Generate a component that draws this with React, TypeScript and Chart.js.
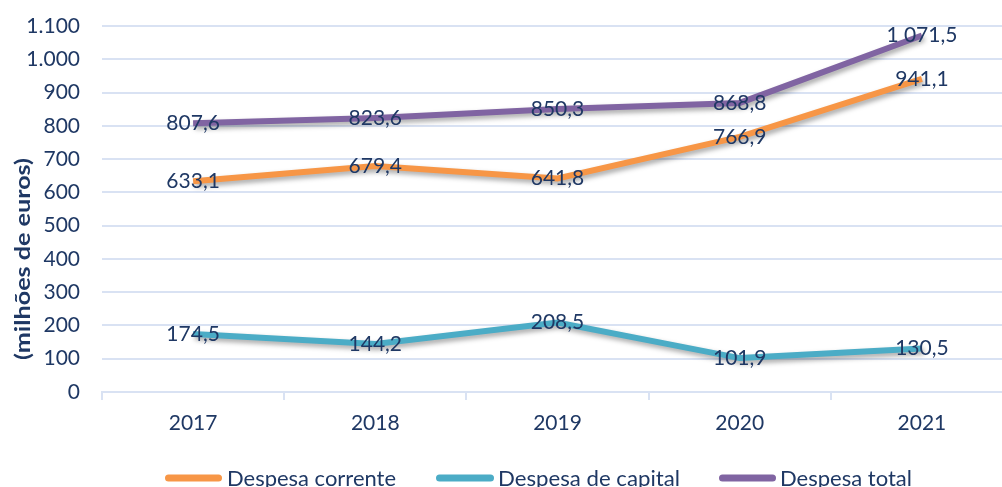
import React, { useEffect, useRef } from "react";
import { Chart, registerables } from "chart.js";

Chart.register(...registerables);

const categories = ["2017", "2018", "2019", "2020", "2021"];
const despesaCorrente = [633.1, 679.4, 641.8, 766.9, 941.1];
const despesaCapital = [174.5, 144.2, 208.5, 101.9, 130.5];
const despesaTotal = [807.6, 823.6, 850.3, 868.8, 1071.5];
const seriesNames = ["Despesa corrente", "Despesa de capital", "Despesa total"];
const seriesColors = ["#F79646", "#4BACC6", "#8064A2"];
const yAxisTitle = "(milhões de euros)";

const TEXT = "#1F3864";
const GRID = "#D9E2F3";
const FONT = "Lato, 'Open Sans', sans-serif";

function fmtLabel(v: number): string {
  const [i, d] = v.toFixed(1).split(".");
  const int = i.replace(/\B(?=(\d{3})+(?!\d))/g, " ");
  return `${int},${d}`;
}
function fmtTick(v: number): string {
  return String(v).replace(/\B(?=(\d{3})+(?!\d))/g, ".");
}

const shadowPlugin = {
  id: "shadow",
  beforeDatasetsDraw(chart: any) {
    const ctx = chart.ctx;
    ctx.save();
    ctx.shadowColor = "rgba(0,0,0,0.35)";
    ctx.shadowBlur = 5;
    ctx.shadowOffsetX = 2;
    ctx.shadowOffsetY = 3;
  },
  afterDatasetsDraw(chart: any) {
    chart.ctx.restore();
  },
};

const labelsPlugin = {
  id: "valueLabels",
  afterDatasetsDraw(chart: any) {
    const ctx = chart.ctx;
    ctx.save();
    ctx.font = `21px ${FONT}`;
    ctx.fillStyle = TEXT;
    ctx.textAlign = "center";
    ctx.textBaseline = "middle";
    chart.data.datasets.forEach((ds: any, di: number) => {
      const meta = chart.getDatasetMeta(di);
      meta.data.forEach((pt: any, i: number) => {
        ctx.fillText(fmtLabel(ds.data[i]), pt.x, pt.y);
      });
    });
    ctx.restore();
  },
};

const titleAndLegendPlugin = {
  id: "titleLegend",
  afterDraw(chart: any) {
    const ctx = chart.ctx;
    // y axis title
    ctx.save();
    ctx.translate(23, 259);
    ctx.rotate(-Math.PI / 2);
    ctx.font = `bold 21px ${FONT}`;
    const tw = ctx.measureText(yAxisTitle).width;
    ctx.scale(202 / tw, 1);
    ctx.fillStyle = TEXT;
    ctx.textAlign = "center";
    ctx.textBaseline = "middle";
    ctx.fillText(yAxisTitle, 0, 0);
    ctx.restore();

    // legend
    const items = [
      { lx: 165, le: 222, tx: 227, tw: 169 },
      { lx: 436, le: 494, tx: 498, tw: 182 },
      { lx: 719, le: 776, tx: 780, tw: 132 },
    ];
    const y = 478;
    chart.data.datasets.forEach((ds: any, i: number) => {
      const it = items[i];
      ctx.save();
      ctx.strokeStyle = ds.borderColor;
      ctx.lineWidth = 7;
      ctx.lineCap = "round";
      ctx.beginPath();
      ctx.moveTo(it.lx + 3.5, y);
      ctx.lineTo(it.le - 3.5, y);
      ctx.stroke();
      ctx.font = `22px ${FONT}`;
      const w = ctx.measureText(ds.label).width;
      ctx.translate(it.tx, 486);
      ctx.scale(it.tw / w, 1);
      ctx.fillStyle = TEXT;
      ctx.textAlign = "left";
      ctx.textBaseline = "alphabetic";
      ctx.fillText(ds.label, 0, 0);
      ctx.restore();
    });
  },
};

export default function App() {
  const ref = useRef<HTMLCanvasElement>(null);
  useEffect(() => {
    document.body.style.margin = "0";
    document.body.style.overflow = "hidden";
    const seriesData = [despesaCorrente, despesaCapital, despesaTotal];
    const chart = new Chart(ref.current!, {
      type: "line",
      data: {
        labels: categories,
        datasets: seriesData.map((d, i) => ({
          label: seriesNames[i],
          data: d,
          borderColor: seriesColors[i],
          backgroundColor: seriesColors[i],
          borderWidth: 6,
          pointRadius: 0,
          tension: 0,
          fill: false,
        })),
      },
      options: {
        responsive: false,
        animation: false,
        devicePixelRatio: 1,
        layout: { padding: { top: 26, bottom: 45, left: 0, right: 7 } },
        plugins: {
          legend: { display: false },
          tooltip: { enabled: false },
        },
        scales: {
          x: {
            offset: true,
            grid: {
              offset: true,
              drawOnChartArea: false,
              drawTicks: true,
              tickLength: 8,
              color: GRID,
              lineWidth: 2,
            },
            border: { display: true, color: GRID, width: 2 },
            ticks: { color: TEXT, font: { family: FONT, size: 21 }, padding: 11 },
            afterFit: (s: any) => {
              s.height = 50;
            },
          },
          y: {
            min: 0,
            max: 1100,
            ticks: {
              stepSize: 100,
              color: TEXT,
              font: { family: FONT, size: 21 },
              padding: 22,
              callback: (v: any) => fmtTick(Number(v)),
            },
            grid: { color: GRID, lineWidth: 2, drawTicks: false },
            border: { display: false },
            afterFit: (s: any) => {
              s.width = 102;
              s.paddingTop = 0;
              s.paddingBottom = 0;
            },
          },
        },
      },
      plugins: [shadowPlugin, labelsPlugin, titleAndLegendPlugin],
    });
    return () => chart.destroy();
  }, []);
  return (
    <div style={{ position: "fixed", left: 0, top: 0, width: 1020, height: 487 }}>
      <canvas ref={ref} width={1020} height={487} style={{ width: 1020, height: 487 }} />
    </div>
  );
}
